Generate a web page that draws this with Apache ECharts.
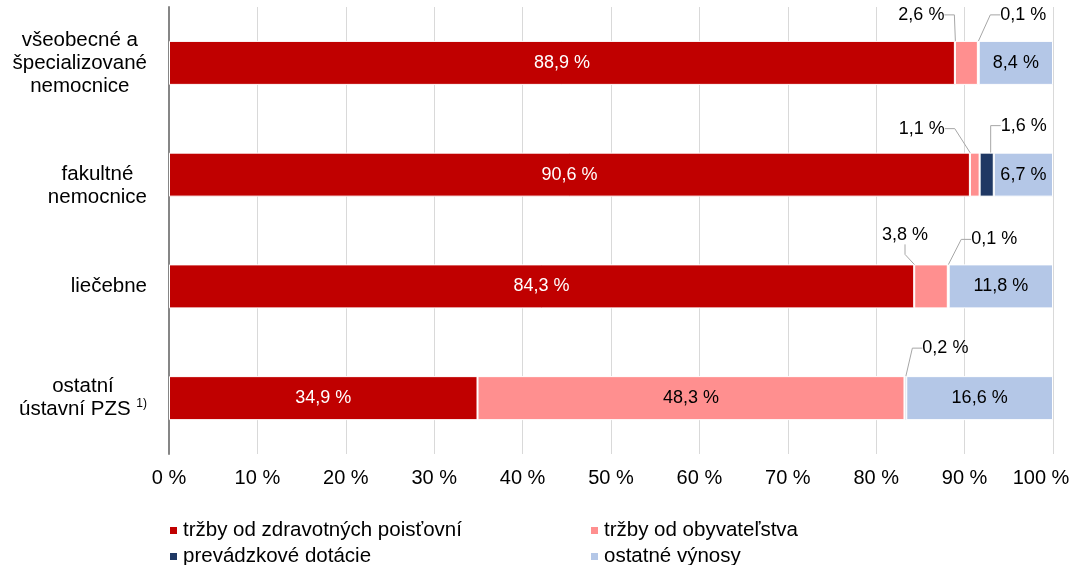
<!DOCTYPE html>
<html>
<head>
<meta charset="utf-8">
<script src="https://cdn.jsdelivr.net/npm/echarts@6/dist/echarts.min.js"></script>
<style>
  html, body { margin: 0; padding: 0; background: #fff; }
  #chart { width: 1076px; height: 565px; }
</style>
</head>
<body>
<div id="chart"></div>
<script>
// kategórie (zhora nadol)
const categories = ['všeobecné a\nšpecializované\nnemocnice', 'fakultné\nnemocnice', 'liečebne', 'ostatní\nústavní PZS 1)']
const seriesNames = ['tržby od zdravotných poisťovní', 'tržby od obyvateľstva', 'prevádzkové dotácie', 'ostatné výnosy']

// hodnoty v %
const poistovne = [88.9, 90.6, 84.3, 34.9]
const obyvatelstvo = [2.6, 1.1, 3.8, 48.3]
const dotacie = [0.1, 1.6, 0.1, 0.2]
const ostatne = [8.4, 6.7, 11.8, 16.6]

const seriesValues = [poistovne, obyvatelstvo, dotacie, ostatne]
const colors = ['#C00000', '#FF8F8F', '#1F3864', '#B4C7E7']
const labelColors = ['#fff', '#000', '#000', '#000']

// posun popisov malých dielov nad stĺpec (séria -> index -> [dx, dy])
const outsideLabels = {
  1: { 0: [-45, -48], 1: [-53, -46], 2: [-26, -51] },
  2: { 0: [45, -48], 1: [37, -49], 2: [46, -47], 3: [40, -50] },
}

const font = "'Liberation Sans', Arial, sans-serif"
const fmt = (v) => v.toFixed(1).replace('.', ',') + ' %'

const myChart = echarts.init(document.getElementById('chart'))

const legendBase = {
  orient: 'vertical',
  top: 520,
  height: 60,
  padding: 0,
  itemGap: 5,
  itemWidth: 9,
  itemHeight: 9,
  icon: 'rect',
  textStyle: { color: '#000', fontSize: 20.5, fontFamily: font },
}

const option = {
  animation: false,
  grid: { left: 169, right: 23, top: 7, bottom: 111, outerBoundsMode: 'none', containLabel: false },
  xAxis: {
    type: 'value',
    min: 0,
    max: 100,
    interval: 10,
    axisLine: { show: false },
    axisTick: { show: false },
    splitLine: { lineStyle: { color: '#d9d9d9', width: 1 } },
    axisLabel: {
      // posledný popis je v originále posunutý doľava, aby sa zmestil
      formatter: (v) => (v === 100 ? '{last|' + v + ' %}' : v + ' %'),
      color: '#000',
      fontSize: 20,
      fontFamily: font,
      margin: 14,
      rich: {
        last: { fontSize: 20, fontFamily: font, color: '#000', padding: [0, 24, 0, 0] },
      },
    },
  },
  yAxis: {
    type: 'category',
    data: categories,
    inverse: true,
    axisTick: { show: false },
    axisLine: { lineStyle: { color: '#868686', width: 2 } },
    axisLabel: {
      margin: 22,
      color: '#000',
      fontFamily: font,
      fontSize: 20.5,
      lineHeight: 23,
      formatter: (val, idx) => {
        let lines = val.split('\n').map((l) => {
          const m = l.match(/^(.*) (\d\))$/)
          return m ? '{c|' + m[1] + ' }{sup|' + m[2] + '}' : '{c|' + l + '}'
        })
        // popis "fakultné nemocnice" je v originále posunutý nižšie
        if (idx === 1) lines = ['{c| }'].concat(lines)
        return lines.join('\n')
      },
      rich: {
        c: { align: 'center', fontSize: 20.5, lineHeight: 23, color: '#000', fontFamily: font },
        sup: { align: 'center', fontSize: 12, lineHeight: 14, verticalAlign: 'top', color: '#000', fontFamily: font },
      },
    },
  },
  legend: [
    Object.assign({}, legendBase, { data: [seriesNames[0], seriesNames[2]], left: 168 }),
    Object.assign({}, legendBase, { data: [seriesNames[1], seriesNames[3]], left: 589 }),
  ],
  series: seriesValues.map((vals, si) => ({
    name: seriesNames[si],
    type: 'bar',
    stack: 'total',
    barWidth: 44,
    data: vals.map((v, di) =>
      outsideLabels[si] && outsideLabels[si][di] ? { value: v, labelLine: { show: true } } : v
    ),
    itemStyle: { color: colors[si], borderColor: '#fff', borderWidth: 1 },
    label: {
      show: true,
      position: 'inside',
      formatter: (p) => fmt(p.value),
      color: labelColors[si],
      fontSize: 18,
      fontFamily: font,
    },
    labelLine: { show: false, length2: 10, lineStyle: { color: '#a6a6a6', width: 1 } },
    labelLayout: (p) => {
      const o = outsideLabels[si] && outsideLabels[si][p.dataIndex]
      return o ? { dx: o[0], dy: o[1] } : {}
    },
  })),
}

myChart.setOption(option)
</script>
</body>
</html>
